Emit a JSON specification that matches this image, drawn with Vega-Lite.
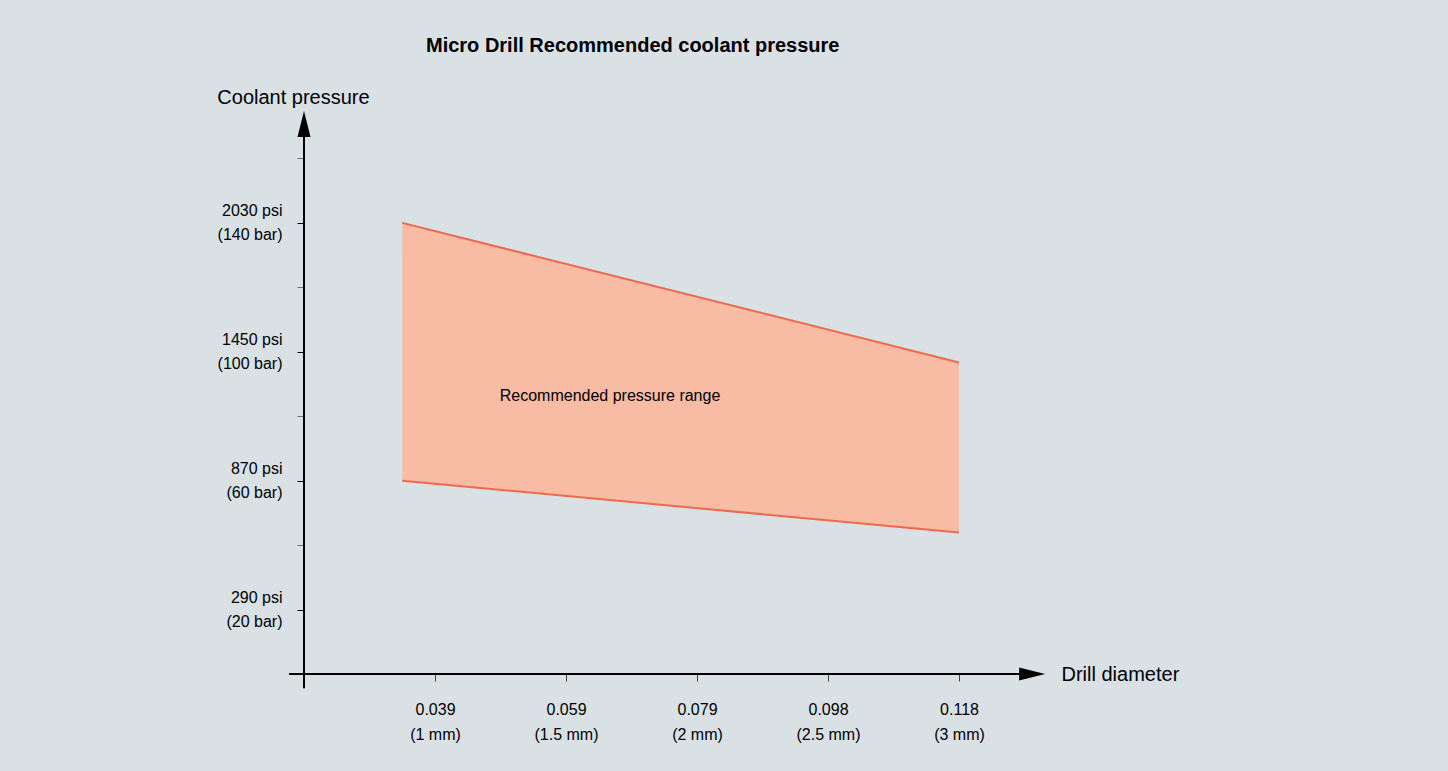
{
  "$schema": "https://vega.github.io/schema/vega-lite/v6.json",
  "width": 786,
  "height": 580,
  "autosize": "none",
  "padding": {"left": 304, "top": 94, "right": 358, "bottom": 97},
  "background": "#d9e1e5",
  "config": {
    "view": {"stroke": null},
    "font": "'Liberation Sans', Arial, sans-serif"
  },
  "title": {
    "text": "Micro Drill Recommended coolant pressure",
    "anchor": "start",
    "frame": "group",
    "dx": 122,
    "offset": 31,
    "fontSize": 20,
    "fontWeight": "bold",
    "color": "#000000"
  },
  "datasets": {
    "range": [
      {"diameter_mm": 0.875, "min_bar": 60, "max_bar": 140},
      {"diameter_mm": 3.0, "min_bar": 43.9, "max_bar": 96.7}
    ],
    "axisLines": [
      {"axis": "x", "diameter_mm": 0.443, "diameter_end": 3.229, "pressure_bar": 0, "pressure_end": 0},
      {"axis": "y", "diameter_mm": 0.5, "diameter_end": 0.5, "pressure_bar": -4.4, "pressure_end": 166.7}
    ],
    "arrows": [
      {"dir": "right", "diameter_mm": 3.279, "pressure_bar": 0},
      {"dir": "up", "diameter_mm": 0.5, "pressure_bar": 170.7}
    ],
    "notes": [
      {"label": "Recommended pressure range", "diameter_mm": 1.668, "pressure_bar": 86.2}
    ]
  },
  "layer": [
    {
      "data": {"name": "range"},
      "mark": {"type": "area", "color": "#f8bba4", "opacity": 1},
      "encoding": {
        "x": {
          "field": "diameter_mm", "type": "quantitative",
          "scale": {"domain": [0.5, 3.5], "nice": false, "zero": false},
          "axis": {
            "title": "Drill diameter",
            "domain": false, "grid": false,
            "values": [1, 1.5, 2, 2.5, 3],
            "tickSize": 7, "tickWidth": 1, "tickColor": "#444444",
            "labelFontSize": 16, "labelColor": "#000000",
            "labelAlign": "center", "labelBaseline": "top",
            "labelLineHeight": 25, "labelPadding": 20,
            "labelOverlap": false, "labelFlush": false, "labelBound": false,
            "labelExpr": "datum.value == 1 ? ['0.039', '(1 mm)'] : datum.value == 1.5 ? ['0.059', '(1.5 mm)'] : datum.value == 2 ? ['0.079', '(2 mm)'] : datum.value == 2.5 ? ['0.098', '(2.5 mm)'] : datum.value == 3 ? ['0.118', '(3 mm)'] : ''",
            "titleX": 757, "titleY": 0, "titleAlign": "left", "titleBaseline": "middle",
            "titleAngle": 0, "titleFontSize": 20, "titleFontWeight": "normal", "titleColor": "#000000"
          }
        },
        "y": {
          "field": "max_bar", "type": "quantitative",
          "scale": {"domain": [0, 180], "nice": false, "zero": false},
          "axis": {
            "title": "Coolant pressure",
            "domain": false, "grid": false,
            "values": [20, 40, 60, 80, 100, 120, 140, 160],
            "tickSize": 7, "tickWidth": 1,
            "tickColor": {"condition": {"test": "datum.value == 20 || datum.value == 60 || datum.value == 100 || datum.value == 140", "value": "#000000"}, "value": "#707070"},
            "labelFontSize": 16, "labelColor": "#000000",
            "labelAlign": "right", "labelBaseline": "middle",
            "labelLineHeight": 24, "labelPadding": 15, "labelOffset": -12,
            "labelOverlap": false, "labelFlush": false, "labelBound": false,
            "labelExpr": "datum.value == 20 ? ['290 psi', '(20 bar)'] : datum.value == 60 ? ['870 psi', '(60 bar)'] : datum.value == 100 ? ['1450 psi', '(100 bar)'] : datum.value == 140 ? ['2030 psi', '(140 bar)'] : ''",
            "titleX": -11, "titleY": 3, "titleAlign": "center", "titleBaseline": "middle",
            "titleAngle": 0, "titleFontSize": 20, "titleFontWeight": "normal", "titleColor": "#000000"
          }
        },
        "y2": {"field": "min_bar"}
      }
    },
    {
      "data": {"name": "range"},
      "mark": {"type": "line", "color": "#ee6a4b", "strokeWidth": 2},
      "encoding": {
        "x": {"field": "diameter_mm", "type": "quantitative", "title": "Drill diameter"},
        "y": {"field": "max_bar", "type": "quantitative", "title": "Coolant pressure"}
      }
    },
    {
      "data": {"name": "range"},
      "mark": {"type": "line", "color": "#ee6a4b", "strokeWidth": 2},
      "encoding": {
        "x": {"field": "diameter_mm", "type": "quantitative", "title": "Drill diameter"},
        "y": {"field": "min_bar", "type": "quantitative", "title": "Coolant pressure"}
      }
    },
    {
      "data": {"name": "axisLines"},
      "mark": {"type": "rule", "color": "#000000", "strokeWidth": 2},
      "encoding": {
        "x": {"field": "diameter_mm", "type": "quantitative", "title": "Drill diameter"},
        "x2": {"field": "diameter_end"},
        "y": {"field": "pressure_bar", "type": "quantitative", "title": "Coolant pressure"},
        "y2": {"field": "pressure_end"}
      }
    },
    {
      "data": {"name": "arrows"},
      "mark": {"type": "point", "filled": true, "color": "#000000", "opacity": 1, "size": 676, "strokeWidth": 0},
      "encoding": {
        "x": {"field": "diameter_mm", "type": "quantitative", "title": "Drill diameter"},
        "y": {"field": "pressure_bar", "type": "quantitative", "title": "Coolant pressure"},
        "shape": {
          "field": "dir", "type": "nominal", "legend": null,
          "scale": {"domain": ["right", "up"], "range": ["M-1,-0.5L1,0L-1,0.5Z", "M-0.5,1L0,-1L0.5,1Z"]}
        }
      }
    },
    {
      "data": {"name": "notes"},
      "mark": {"type": "text", "align": "center", "baseline": "middle", "fontSize": 16, "color": "#000000"},
      "encoding": {
        "x": {"field": "diameter_mm", "type": "quantitative", "title": "Drill diameter"},
        "y": {"field": "pressure_bar", "type": "quantitative", "title": "Coolant pressure"},
        "text": {"field": "label"}
      }
    }
  ]
}
